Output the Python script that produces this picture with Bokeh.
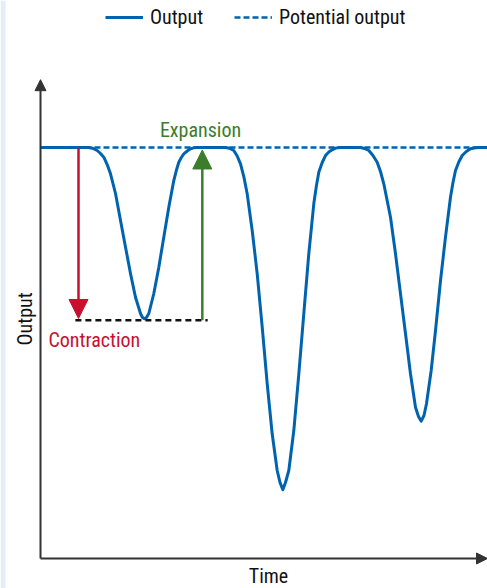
from bokeh.plotting import figure
from bokeh.models import Range1d, Arrow, NormalHead, Legend, LegendItem, BoxAnnotation
from bokeh.core.properties import value
from bokeh.embed import file_html
from bokeh.resources import INLINE

# ---- data ----
time = [0.0, 10.74, 11.63, 12.68, 13.42, 14.16, 14.92, 15.66, 16.78, 17.90, 19.02, 20.13,
        21.25, 22.37, 22.82, 23.27, 23.71, 24.23, 25.35, 26.47, 27.58, 28.70, 29.82, 30.38,
        30.94, 31.50, 32.06, 32.82, 33.56, 34.23, 35.06,
        41.39, 42.28, 43.24, 44.00, 44.74, 45.48, 46.24, 47.36, 48.48, 49.60, 50.72, 51.83,
        52.95, 53.58, 54.21, 54.81, 55.55, 56.67, 57.79, 58.90, 60.02, 61.14, 61.70, 62.26,
        63.02, 63.76, 64.50, 65.26, 66.00, 67.11,
        71.59, 72.48, 73.45, 74.38, 75.32, 76.06, 76.80, 78.30, 79.42, 80.54, 81.66, 82.77,
        83.89, 84.56, 85.17, 85.79, 86.35, 87.40, 88.37, 89.49, 90.60, 91.72, 92.28, 92.84,
        93.58, 94.34, 95.26, 96.20, 97.32, 98.43, 100.0]
output = [100.0, 100.0, 99.83, 99.27, 98.54, 97.64, 95.86, 93.60, 88.81, 82.24, 75.74, 69.34,
          63.58, 59.61, 58.64, 58.32, 58.64, 59.61, 64.48, 70.88, 78.18, 85.47, 91.97, 94.40,
          96.42, 97.57, 98.47, 99.15, 99.68, 99.93, 100.0,
          100.0, 99.81, 99.27, 97.93, 96.03, 92.94, 88.73, 79.81, 69.27, 56.28, 42.51, 30.34,
          21.41, 18.49, 16.72, 18.49, 21.41, 31.14, 44.94, 59.54, 74.14, 86.30, 90.51, 93.99,
          96.35, 98.05, 98.91, 99.44, 99.85, 100.0,
          100.0, 99.76, 99.27, 98.05, 96.42, 94.16, 91.17, 83.04, 74.14, 64.40, 54.67, 44.94,
          36.81, 34.55, 33.41, 34.79, 37.64, 45.74, 55.47, 67.64, 78.18, 87.91, 91.48, 94.40,
          96.47, 98.05, 99.03, 99.68, 99.93, 100.0, 100.0]
potential_time = [0, 100]
potential_output = [100, 100]
trough_level = 58.0
trough_line_time = [7.8, 37.4]
contraction_time = 8.5
expansion_time = 36.2
legend_labels = ["Output", "Potential output"]

BLUE = "#0063af"
RED = "#c8102e"
GREEN = "#3b7d2b"
AXIS = "#333333"
FONT = "'Liberation Sans Narrow', 'Roboto Condensed', 'DejaVu Sans Condensed', 'Arial Narrow', sans-serif"
FS = "20px"

p = figure(width=487, height=588, output_backend="svg", toolbar_location=None,
           x_range=Range1d(-8.95, 100), y_range=Range1d(-7.30, 135.77),
           x_axis_location=None, y_axis_location=None, min_border=0)
p.grid.visible = False
p.outline_line_color = None
p.background_fill_color = "white"
p.border_fill_color = "white"

# light page strip at the left edge
p.add_layout(BoxAnnotation(right=-7.83, fill_color="#e6edf7", fill_alpha=1, line_color=None))

curve = p.line(time, output, line_color=BLUE, line_width=3, line_join="round")
pot = p.line(potential_time, potential_output, line_color=BLUE, line_width=2.5, line_dash="6 3")
p.line(trough_line_time, [trough_level, trough_level], line_color="#111111", line_width=2.5,
       line_dash="6 4")

# axes drawn as arrows
p.add_layout(Arrow(end=NormalHead(size=11, fill_color=AXIS, line_color=AXIS),
                   x_start=0, y_start=0, x_end=0, y_end=116.5,
                   line_color=AXIS, line_width=2))
p.add_layout(Arrow(end=NormalHead(size=11, fill_color=AXIS, line_color=AXIS),
                   x_start=0, y_start=0, x_end=100, y_end=0,
                   line_color=AXIS, line_width=2))

# contraction / expansion arrows
p.add_layout(Arrow(end=NormalHead(size=19, fill_color=RED, line_color=RED),
                   x_start=contraction_time, y_start=100, x_end=contraction_time, y_end=trough_level + 0.4,
                   line_color=RED, line_width=2.5))
p.add_layout(Arrow(end=NormalHead(size=19, fill_color=GREEN, line_color=GREEN),
                   x_start=expansion_time, y_start=trough_level, x_end=expansion_time, y_end=99.4,
                   line_color=GREEN, line_width=2.5))

p.text(x=[35.8], y=[104.35], text=["Expansion"], text_color=GREEN, text_font=value(FONT),
       text_font_size=FS, text_align="center", text_baseline="alphabetic")
p.text(x=[12.04], y=[53.2], text=["Contraction"], text_color=RED, text_font=value(FONT),
       text_font_size=FS, text_align="center", text_baseline="alphabetic")
# axis titles
p.text(x=[-3.55], y=[58.3], text=["Output"], angle=1.5707963, text_color="#111111",
       text_font=value(FONT), text_font_size=FS, text_align="center", text_baseline="alphabetic")
p.text(x=[51.0], y=[-4.3], text=["Time"], text_color="#111111",
       text_font=value(FONT), text_font_size=FS, text_align="center", text_baseline="alphabetic")

legend = Legend(items=[LegendItem(label=legend_labels[0], renderers=[curve]),
                       LegendItem(label=legend_labels[1], renderers=[pot])],
                orientation="horizontal", location=(105, 559),
                border_line_color=None, background_fill_alpha=0,
                padding=0, margin=0, spacing=31, glyph_width=38, glyph_height=20,
                label_standoff=7, label_height=20,
                label_text_font=FONT, label_text_font_size=FS, label_text_color="#111111")
p.add_layout(legend)

open("out.html", "w").write(file_html(p, INLINE))
